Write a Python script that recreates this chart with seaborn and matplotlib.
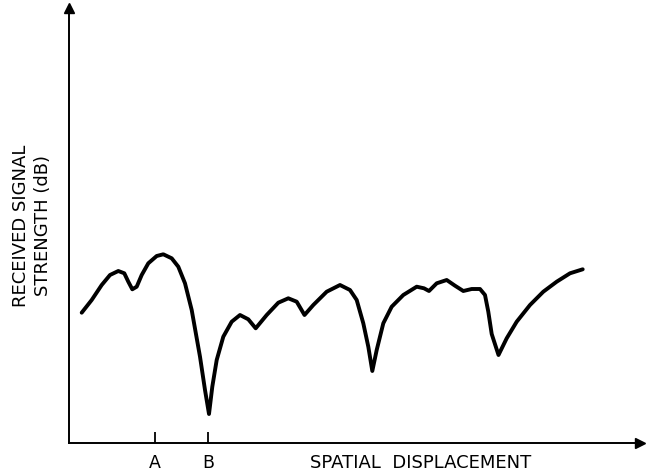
import matplotlib
matplotlib.use('Agg')
import matplotlib.pyplot as plt
import seaborn as sns
import pandas as pd

# spatial displacement (arbitrary units) and received signal strength (arbitrary dB scale)
displacement = [12.7, 22.7, 32.7, 41, 49.3, 55.3, 59.3, 63.3, 67.7, 72.7, 79.3, 87.7, 94.3,
                102.7, 109.3, 116, 122.7, 131, 136, 140, 143.3, 147.7, 154.3, 162.7, 171,
                179.3, 186.7, 197.7, 209.3, 219.3, 227.7, 235.5, 244.3, 257.7, 271, 281,
                287.7, 294.3, 299.3, 303.3, 307.7, 314.3, 322.7, 334.3, 347.7, 355, 360,
                367.7, 377.7, 386, 394.3, 402.7, 411, 416, 419.3, 422.7, 429.5, 437.7,
                447.7, 461, 474.3, 487.7, 501, 513.7]
signal = [130.3, 143, 158, 168, 172, 169.7, 161.3, 153.7, 156.3, 168, 179.7, 187, 188.7,
          184.7, 176.3, 159.7, 133, 86.3, 53, 29, 56.3, 83, 106.3, 121.3, 128,
          123.7, 114.7, 128, 140.3, 144.7, 141.3, 128, 138, 151.3, 158, 153,
          143, 119.7, 96.3, 72, 93, 119.7, 136.3, 148, 156.3, 154.7, 152,
          159.7, 163, 157.3, 152, 154, 154, 148, 131.3, 109, 88, 104.7,
          121.3, 138, 151.3, 161.3, 169.7, 173.7]

tick_pos = [86, 139]
tick_labels = ['A', 'B']

df = pd.DataFrame({'x': displacement, 'y': signal})

sns.set_theme(style='white')
plt.rcParams['font.family'] = ['DejaVu Sans']

fig = plt.figure(figsize=(6.54, 4.72), dpi=100)
ax = fig.add_axes([69 / 654, 29 / 472, 571 / 654, 435 / 472])

sns.lineplot(data=df, x='x', y='y', sort=False, estimator=None,
             color='black', linewidth=2.8, ax=ax,
             solid_joinstyle='round', solid_capstyle='round')

ax.set_xlim(0, 571)
ax.set_ylim(0, 435)

sns.despine(ax=ax)
for s in ['left', 'bottom']:
    ax.spines[s].set_color('black')
    ax.spines[s].set_linewidth(1.4)

# arrow heads on the axes
ax.plot(1, 0, '>', color='black', markersize=7, transform=ax.transAxes, clip_on=False)
ax.plot(0, 1, '^', color='black', markersize=7, transform=ax.transAxes, clip_on=False)

ax.set_xticks(tick_pos)
ax.set_xticklabels(tick_labels)
ax.set_yticks([])
ax.tick_params(axis='x', direction='in', length=8, width=1.3, color='black',
               labelsize=12.5, labelcolor='black', pad=8, bottom=True)
ax.set_xlabel('')

ax.annotate('SPATIAL  DISPLACEMENT', xy=(352, 0), xycoords=('data', 'axes fraction'),
            xytext=(0, -8), textcoords='offset points', ha='center', va='top',
            fontsize=13, color='black', annotation_clip=False)

ax.set_ylabel('RECEIVED SIGNAL\nSTRENGTH (dB)', fontsize=13, linespacing=1.3, color='black')
ax.yaxis.set_label_coords(-0.03, 0.5)

ax.set_facecolor('white')
fig.patch.set_facecolor('white')

plt.savefig('out.png', dpi=100)
plt.close()
